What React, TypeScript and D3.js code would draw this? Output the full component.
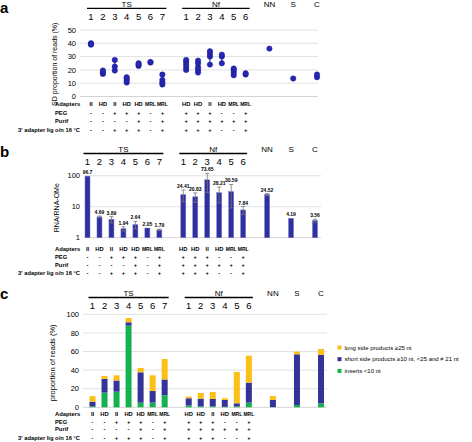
import React from 'react';
import * as d3 from 'd3';

// ---- categories ----
const slots = [0, 1, 2, 3, 4, 5, 6, 8, 9, 10, 11, 12, 13, 15, 17, 19];
const colNums = ['1', '2', '3', '4', '5', '6', '7', '1', '2', '3', '4', '5', '6', '', '', ''];
const groupNames = ['TS', 'Nf', 'NN', 'S', 'C'];
const groupFirst = [0, 8, 15, 17, 19];
const groupLast = [6, 13, 15, 17, 19];
const adapters = ['II', 'HD', 'II', 'HD', 'HD', 'MRL', 'MRL', 'HD', 'HD', 'II', 'HD', 'MRL', 'MRL', '', '', ''];
const peg = ['-', '-', '+', '+', '+', '-', '+', '+', '+', '+', '-', '-', '+', '', '', ''];
const purif = ['-', '-', '-', '-', '+', '-', '+', '+', '+', '+', '+', '+', '+', '', '', ''];
const lig = ['-', '-', '+', '+', '+', '-', '+', '+', '+', '+', '-', '-', '+', '', '', ''];
const rowNames = ['Adapters', 'PEG', 'Purif', "3' adapter lig o/n 16 °C"];

// ---- panel a: SD proportion of reads (%) ----
const sdProportion = [
  [39, 40, 39.5], [17, 18, 19.5], [19.5, 22.5, 27.5], [10.5, 12, 13.5, 14.5],
  [23, 24, 25], [25.5, 26], [9, 10.5, 12.5, 16.5],
  [20, 22, 24, 26, 27.5], [18, 20, 22, 25, 27], [24, 30, 32, 34], [25, 30, 31.5],
  [16, 18, 20, 21], [16.5, 17.5], [36], [13.5], [14.5, 16.5],
];
const aTicks = [0, 10, 20, 30, 40, 50];

// ---- panel b: RNA/RNA-OMe ----
const ratio = [96.7, 4.69, 3.89, 1.94, 2.64, 2.05, 1.79, 24.41, 20.83, 73.65, 28.21, 30.59, 7.84, 24.52, 4.19, 3.56];
const ratioLabels = ['96.7', '4.69', '3.89', '1.94', '2.64', '2.05', '1.79', '24.41', '20.83', '73.65', '28.21', '30.59', '7.84', '24.52', '4.19', '3.56'];
const ratioSd = [0, 0.3, 0.9, 0.3, 0.7, 0, 0.1, 10, 7, 45, 15, 21.5, 2.3, 2, 0, 0.4];
const bTicks = [1, 10, 100];

// ---- panel c: proportion of reads (%) ----
const inserts = [1, 15.8, 16.8, 87.8, 5, 5, 12.9, 2, 1, 1, 0.5, 1, 5, 0.3, 2.5, 4.3];
const shortSide = [5, 14.7, 12, 3.6, 32.6, 12.5, 17, 7.7, 8.3, 8, 7.4, 3.3, 21.5, 7.6, 54.5, 52];
const longSide = [6, 3.2, 5.6, 4.6, 4.7, 16.9, 22, 1.8, 6.1, 7.5, 1.8, 33.7, 29, 4.3, 2.9, 6.4];
const cTicks = [0, 20, 40, 60, 80, 100];
const legendLabels = ['long side products ≥25 nt', 'short side products ≥10 nt, <25 and ≠ 21 nt', 'inserts <10 nt'];

const FONT = '"Liberation Sans", Arial, sans-serif';
const GREEN = '#14b14e';
const BLUE = '#333399';
const YELLOW = '#fcbf16';
const DOT = '#2727b4';
const GRID = '#d4d4d4';

type HeaderProps = { x: d3.ScaleLinear<number, number>; groupY: number; lineY: number; singleY: number; numY: number };
function Header({ x, groupY, lineY, singleY, numY }: HeaderProps) {
  return (
    <g fontFamily={FONT}>
      {groupNames.map((g, i) => {
        const a = x(groupFirst[i]);
        const b = x(groupLast[i]);
        const multi = groupLast[i] > groupFirst[i];
        return (
          <g key={g}>
            {multi && <line x1={a - 4} x2={b + 4} y1={lineY} y2={lineY} stroke="#000" strokeWidth={1.4} />}
            <text x={(a + b) / 2} y={multi ? groupY : singleY} fontSize={8} textAnchor="middle">{g}</text>
          </g>
        );
      })}
      {slots.map((s, i) => colNums[i] ? (
        <text key={i} x={x(s)} y={numY} fontSize={9.5} textAnchor="middle">{colNums[i]}</text>
      ) : null)}
    </g>
  );
}

type RowsProps = { x: d3.ScaleLinear<number, number>; ys: number[] };
function Rows({ x, ys }: RowsProps) {
  const rows = [adapters, peg, purif, lig];
  return (
    <g fontFamily={FONT} fontWeight="bold">
      {rowNames.map((r, k) => (
        <text key={r} x={k === 3 ? 80 : 55} y={ys[k]} fontSize={5.8} textAnchor={k === 3 ? 'end' : 'start'}>{r}</text>
      ))}
      {rows.map((row, k) => row.map((t, i) => t ? (
        <text key={k + '-' + i} x={x(slots[i])} y={ys[k]} fontSize={t.length > 2 ? 5 : 5.8} textAnchor="middle">{t}</text>
      ) : null))}
    </g>
  );
}

export default function App() {
  // panel a
  const xA = d3.scaleLinear().domain([0, 19]).range([91, 317]);
  const yA = d3.scaleLinear().domain([0, 50]).range([96.5, 30]);
  // panel b
  const xB = d3.scaleLinear().domain([0, 19]).range([87.5, 315]);
  const yB = d3.scaleLog().domain([1, 100]).range([237.7, 175.7]);
  // panel c
  const xC = d3.scaleLinear().domain([0, 19]).range([92.5, 321]);
  const yC = d3.scaleLinear().domain([0, 100]).range([407.3, 314.3]);

  const stackData = slots.map((s, i) => ({ slot: s, inserts: inserts[i], shortSide: shortSide[i], longSide: longSide[i] }));
  const stacked = d3.stack<any>().keys(['inserts', 'shortSide', 'longSide'])(stackData);
  const stackColors = [GREEN, BLUE, YELLOW];

  const bw = 5;
  const cw = 6;

  return (
    <svg width={472} height={442} style={{ position: 'absolute', left: 0, top: 0, background: '#fff' }} fontFamily={FONT}>
      {/* ===== panel a ===== */}
      <text x={0} y={13} fontSize={15} fontWeight="bold">a</text>
      <Header x={xA} groupY={6.7} lineY={8.4} singleY={7} numY={20} />
      {aTicks.map(t => (
        <g key={t}>
          <line x1={80} x2={318} y1={yA(t)} y2={yA(t)} stroke={GRID} strokeWidth={t === 0 ? 1 : 0.7} />
          <text x={76} y={yA(t) + 2.6} fontSize={7.5} textAnchor="end">{t}</text>
        </g>
      ))}
      <text transform={`translate(57,${yA(25) + 1}) rotate(-90)`} fontSize={7} textAnchor="middle">SD proportion of reads (%)</text>
      {sdProportion.map((vals, i) => {
        const cx = xA(slots[i]);
        const [lo, hi] = d3.extent(vals) as [number, number];
        return (
          <g key={i}>
            <line x1={cx} x2={cx} y1={yA(lo)} y2={yA(hi)} stroke={DOT} strokeWidth={1} />
            {vals.map((v, j) => (
              <circle key={j} cx={cx} cy={yA(v)} r={2.7} fill={DOT} stroke="#1a1a8c" strokeWidth={0.5} />
            ))}
          </g>
        );
      })}
      <Rows x={xA} ys={[106, 115, 123, 131.5]} />

      {/* ===== panel b ===== */}
      <text x={0} y={157} fontSize={15} fontWeight="bold">b</text>
      <Header x={xB} groupY={151.5} lineY={153.5} singleY={152} numY={165} />
      {bTicks.map(t => (
        <g key={t}>
          <line x1={84} x2={321} y1={yB(t)} y2={yB(t)} stroke={GRID} strokeWidth={t === 1 ? 1 : 0.7} />
          <text x={80} y={yB(t) + 2.6} fontSize={7.5} textAnchor="end">{t}</text>
        </g>
      ))}
      <text transform={`translate(59,${(yB(1) + yB(100)) / 2 + 1}) rotate(-90)`} fontSize={7} textAnchor="middle">RNA/RNA-OMe</text>
      {ratio.map((v, i) => {
        const cx = xB(slots[i]);
        const sd = ratioSd[i];
        const top = v + sd;
        const bot = Math.max(1, v - sd);
        return (
          <g key={i}>
            <rect x={cx - bw / 2} y={yB(v)} width={bw} height={yB(1) - yB(v)} fill="#30309c" stroke="#7272d6" strokeWidth={0.5} />
            {sd > 0 && (
              <g stroke="#777" strokeWidth={0.8}>
                <line x1={cx} x2={cx} y1={yB(top)} y2={yB(bot)} />
                <line x1={cx - 2} x2={cx + 2} y1={yB(top)} y2={yB(top)} />
                <line x1={cx - 2} x2={cx + 2} y1={yB(bot)} y2={yB(bot)} />
              </g>
            )}
            <text x={cx} y={yB(top) - 2} fontSize={5} fontWeight="bold" textAnchor="middle">{ratioLabels[i]}</text>
          </g>
        );
      })}
      <Rows x={xB} ys={[251, 259, 266.5, 275]} />

      {/* ===== panel c ===== */}
      <text x={0} y={299} fontSize={15} fontWeight="bold">c</text>
      <Header x={xC} groupY={295.5} lineY={297.5} singleY={296} numY={308.5} />
      {cTicks.map(t => (
        <g key={t}>
          <line x1={83} x2={327} y1={yC(t)} y2={yC(t)} stroke={GRID} strokeWidth={t === 0 ? 1 : 0.7} />
          <text x={79} y={yC(t) + 2.6} fontSize={7.5} textAnchor="end">{t}</text>
        </g>
      ))}
      <text transform={`translate(55,${yC(50) + 2}) rotate(-90)`} fontSize={7.5} textAnchor="middle">proportion of reads (%)</text>
      {stacked.map((layer, k) => (
        <g key={k} fill={stackColors[k]}>
          {layer.map((seg: any, i: number) => (
            <rect key={i} x={xC(slots[i]) - cw / 2} y={yC(seg[1])} width={cw} height={Math.max(0, yC(seg[0]) - yC(seg[1]))} />
          ))}
        </g>
      ))}
      {legendLabels.map((l, k) => (
        <g key={l}>
          <rect x={337.5} y={345.5 + k * 11.7} width={4} height={4} fill={stackColors[2 - k]} />
          <text x={344.5} y={349.7 + k * 11.7} fontSize={6}>{l}</text>
        </g>
      ))}
      <Rows x={xC} ys={[415.5, 423.5, 431, 439.5]} />
    </svg>
  );
}
